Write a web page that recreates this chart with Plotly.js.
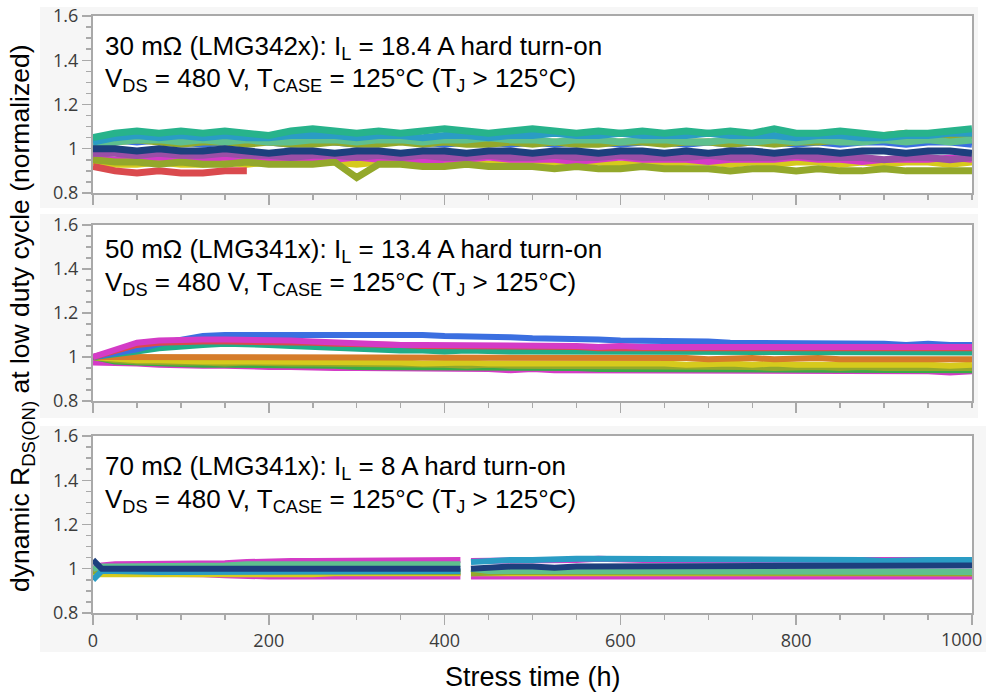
<!DOCTYPE html>
<html><head><meta charset="utf-8">
<script src="https://cdn.plot.ly/plotly-3.0.1.min.js"></script>
<style>html,body{margin:0;padding:0;background:#fff}#chart{width:987px;height:694px}</style>
</head><body><div id="chart"></div>
<script>
// ---------- DATA ----------
const stressTime = [0,25,50,75,100,125,150,175,200,225,250,275,300,325,350,375,400,425,450,475,500,525,550,575,600,625,650,675,700,725,750,775,800,825,850,875,900,925,950,975,1000];
const stressTime3 = [0,10,25,50,75,100,125,150,175,200,225,250,275,300,325,350,375,400,418,424,430,450,475,500,525,550,575,600,625,650,675,700,725,750,775,800,825,850,875,900,925,950,975,1000];

// Panel 1: 30 mOhm (LMG342x)
const p1Green = [1.05,1.07,1.08,1.07,1.08,1.07,1.08,1.07,1.06,1.08,1.09,1.08,1.07,1.08,1.07,1.08,1.09,1.08,1.07,1.08,1.09,1.08,1.07,1.08,1.07,1.08,1.07,1.08,1.07,1.08,1.07,1.09,1.07,1.07,1.08,1.07,1.06,1.07,1.07,1.08,1.09];
const p1Cyan = [1.03,1.05,1.06,1.05,1.06,1.05,1.06,1.05,1.05,1.06,1.06,1.06,1.05,1.06,1.06,1.05,1.06,1.06,1.05,1.06,1.06,1.07,1.06,1.06,1.07,1.06,1.06,1.06,1.07,1.06,1.06,1.06,1.05,1.06,1.06,1.05,1.05,1.06,1.06,1.07,1.07];
const p1LightGreen = [1.02,1.03,1.04,1.04,1.03,1.04,1.03,1.04,1.03,1.03,1.04,1.04,1.03,1.04,1.04,1.03,1.04,1.04,1.05,1.04,1.04,1.03,1.04,1.04,1.03,1.04,1.04,1.03,1.03,1.04,1.03,1.04,1.03,1.04,1.03,1.03,1.04,1.03,1.04,1.03,1.04];
const p1OliveUp = [1.02,1.03,1.04,1.03,1.02,1.03,1.03,1.02,1.03,1.02,1.02,1.03,1.02,1.02,1.03,1.02,1.03,1.02,1.02,1.03,1.02,1.03,1.02,1.02,1.03,1.03,1.02,1.03,1.03,1.02,1.03,1.02,1.03,1.03,1.04,1.06,1.06,1.07,1.06,1.06,1.06];
const p1Navy = [1.00,1.00,0.99,1.00,0.99,0.99,1.00,0.99,0.98,0.99,0.99,0.98,0.99,0.99,0.98,0.99,0.99,0.98,0.99,0.99,0.98,0.99,0.99,0.98,0.99,0.99,0.98,0.99,0.98,0.99,0.99,0.98,0.99,0.99,0.98,0.99,0.99,0.98,0.99,0.99,0.98];
const p1Purple = [0.98,0.98,0.97,0.98,0.97,0.97,0.98,0.97,0.97,0.96,0.97,0.97,0.96,0.97,0.96,0.97,0.96,0.96,0.97,0.96,0.96,0.97,0.96,0.96,0.97,0.96,0.96,0.96,0.97,0.96,0.96,0.96,0.97,0.96,0.96,0.96,0.95,0.96,0.96,0.95,0.96];
const p1Magenta = [0.96,0.95,0.95,0.96,0.95,0.95,0.96,0.95,0.95,0.94,0.95,0.95,0.96,0.95,0.95,0.94,0.95,0.95,0.96,0.95,0.95,0.95,0.94,0.95,0.96,0.95,0.95,0.95,0.94,0.95,0.95,0.95,0.96,0.95,0.95,0.94,0.95,0.95,0.95,0.96,0.95];
const p1OliveLow = [0.95,0.94,0.94,0.93,0.94,0.93,0.93,0.94,0.93,0.93,0.93,0.94,0.87,0.93,0.93,0.92,0.92,0.93,0.92,0.92,0.92,0.91,0.92,0.91,0.91,0.92,0.91,0.91,0.91,0.90,0.91,0.91,0.90,0.91,0.90,0.90,0.91,0.90,0.90,0.90,0.90];
const p1Red = [0.92,0.90,0.89,0.90,0.89,0.89,0.90,0.90,null,null,null,null,null,null,null,null,null,null,null,null,null,null,null,null,null,null,null,null,null,null,null,null,null,null,null,null,null,null,null,null,null];
const p1Yellow = [0.94,0.93,0.93,0.94,0.93,0.93,0.94,0.93,0.94,0.94,0.94,0.94,0.93,0.94,0.94,0.93,0.94,0.94,0.93,0.94,0.94,0.93,0.94,0.94,0.93,0.94,0.93,0.94,0.94,0.93,0.94,0.93,0.94,0.94,0.93,0.94,0.93,0.94,0.94,0.93,0.94];
const p1Blue = [1.04,1.04,1.03,1.04,1.03,1.02,1.03,1.04,1.03,1.02,1.03,1.03,1.02,1.03,1.04,1.03,1.02,1.03,1.03,1.02,1.03,1.02,1.03,1.03,1.02,1.03,1.03,1.02,1.03,1.02,1.03,1.03,1.02,1.03,1.02,1.03,1.03,1.02,1.03,1.03,1.02];

// Panel 2: 50 mOhm (LMG341x)
const p2Blue = [1.00,1.015,1.035,1.06,1.08,1.095,1.10,1.10,1.10,1.10,1.10,1.10,1.105,1.10,1.10,1.10,1.095,1.095,1.09,1.09,1.085,1.085,1.08,1.08,1.075,1.075,1.07,1.07,1.07,1.065,1.065,1.065,1.065,1.06,1.06,1.06,1.06,1.055,1.06,1.055,1.055];
const p2Magenta = [1.00,1.035,1.065,1.075,1.08,1.08,1.08,1.08,1.075,1.075,1.07,1.065,1.06,1.06,1.055,1.055,1.055,1.05,1.05,1.05,1.05,1.05,1.05,1.045,1.05,1.045,1.045,1.045,1.045,1.045,1.045,1.045,1.045,1.045,1.045,1.045,1.045,1.045,1.045,1.05,1.045];
const p2Red = [1.00,1.03,1.055,1.065,1.07,1.07,1.07,1.07,1.07,1.065,1.065,1.06,1.06,1.055,1.055,1.05,1.05,1.05,1.05,1.045,1.045,1.045,1.045,1.04,1.04,1.04,1.04,1.04,1.04,1.04,1.04,1.04,1.04,1.04,1.04,1.04,1.04,1.04,1.04,1.04,1.04];
const p2Teal = [1.00,1.01,1.025,1.04,1.05,1.055,1.06,1.06,1.055,1.05,1.045,1.04,1.035,1.03,1.03,1.03,1.025,1.03,1.025,1.025,1.025,1.025,1.025,1.025,1.02,1.025,1.02,1.02,1.02,1.02,1.02,1.02,1.02,1.02,1.02,1.02,1.02,1.025,1.02,1.02,1.02];
const p2Orange = [1.00,1.00,1.00,1.00,0.995,1.00,1.00,0.995,1.00,1.00,0.995,1.00,1.00,0.995,1.00,0.995,1.00,0.995,0.995,1.00,0.995,0.995,1.00,0.995,0.995,1.00,0.995,0.995,0.99,0.995,0.995,0.99,0.995,0.995,0.99,0.99,0.995,0.99,0.99,0.995,0.99];
const p2Yellow = [1.00,0.99,0.985,0.985,0.98,0.98,0.98,0.98,0.975,0.975,0.975,0.98,0.975,0.975,0.975,0.97,0.975,0.975,0.97,0.97,0.975,0.97,0.97,0.97,0.97,0.97,0.97,0.965,0.97,0.97,0.965,0.97,0.965,0.965,0.97,0.965,0.965,0.965,0.965,0.96,0.965];
const p2Olive = [1.00,0.985,0.98,0.975,0.975,0.975,0.97,0.975,0.97,0.97,0.97,0.97,0.965,0.97,0.965,0.965,0.965,0.96,0.965,0.96,0.96,0.96,0.96,0.96,0.955,0.96,0.955,0.955,0.955,0.955,0.955,0.95,0.955,0.955,0.95,0.955,0.95,0.95,0.95,0.95,0.95];
const p2Green = [1.00,0.98,0.975,0.97,0.97,0.965,0.965,0.965,0.96,0.96,0.96,0.96,0.955,0.955,0.955,0.955,0.95,0.95,0.95,0.95,0.95,0.95,0.95,0.945,0.945,0.945,0.945,0.945,0.94,0.945,0.94,0.945,0.94,0.94,0.94,0.94,0.94,0.945,0.94,0.94,0.94];
const p2MagentaLow = [0.975,0.975,0.97,0.965,0.96,0.96,0.96,0.955,0.955,0.955,0.95,0.95,0.95,0.95,0.945,0.945,0.945,0.945,0.945,0.94,0.945,0.94,0.94,0.94,0.94,0.94,0.94,0.935,0.94,0.935,0.935,0.94,0.935,0.935,0.935,0.935,0.935,0.935,0.935,0.93,0.935];

// Panel 3: 70 mOhm (LMG341x)
const p3MagentaUp = [1.00,1.015,1.02,1.02,1.02,1.02,1.025,1.025,1.03,1.035,1.035,1.035,1.035,1.04,1.04,1.04,1.04,1.04,1.04,null,1.035,1.035,1.04,1.04,1.04,1.04,1.045,1.04,1.04,1.04,1.04,1.04,1.04,1.04,1.04,1.035,1.04,1.04,1.035,1.035,1.04,1.04,1.04,1.04];
const p3Cyan = [0.95,0.99,0.99,0.985,0.985,0.985,0.985,0.985,0.99,0.99,0.99,0.99,0.99,0.99,0.99,0.99,0.99,0.99,0.99,null,1.03,1.035,1.04,1.04,1.045,1.045,1.045,1.045,1.04,1.045,1.045,1.045,1.04,1.04,1.045,1.04,1.04,1.04,1.04,1.035,1.04,1.04,1.04,1.04];
const p3LightGreen = [1.00,1.01,1.01,1.01,1.01,1.015,1.015,1.015,1.02,1.02,1.02,1.02,1.02,1.02,1.02,1.02,1.02,1.02,1.02,null,1.00,0.99,0.99,0.99,0.99,0.985,0.99,0.985,0.985,0.99,0.985,0.985,0.985,0.985,0.985,0.985,0.99,0.985,0.985,0.985,0.99,0.985,0.985,0.985];
const p3Navy = [1.04,1.00,1.00,1.00,1.00,1.00,1.00,1.00,1.00,1.00,1.00,1.00,1.005,1.00,1.00,1.005,1.00,1.005,1.00,null,1.00,1.005,1.01,1.01,1.005,1.01,1.01,1.01,1.01,1.015,1.01,1.01,1.015,1.015,1.01,1.015,1.015,1.01,1.015,1.015,1.01,1.015,1.015,1.015];
const p3Yellow = [0.975,0.975,0.975,0.97,0.97,0.97,0.97,0.975,0.975,0.975,0.975,0.975,0.98,0.98,0.98,0.98,0.98,0.98,0.98,null,0.98,0.98,0.98,0.98,0.98,0.98,0.98,0.98,0.98,0.98,0.98,0.98,0.98,0.98,0.98,0.98,0.98,0.98,0.98,0.98,0.98,0.98,0.98,0.98];
const p3Olive = [0.99,0.99,0.99,0.99,0.985,0.985,0.985,0.985,0.985,0.985,0.985,0.985,0.985,0.985,0.985,0.985,0.985,0.985,0.985,null,0.98,0.985,0.985,0.985,0.985,0.985,0.98,0.985,0.985,0.985,0.98,0.985,0.985,0.985,0.98,0.98,0.985,0.985,0.98,0.98,0.985,0.98,0.98,0.98];
const p3MagentaLow = [0.98,0.98,0.975,0.975,0.975,0.975,0.975,0.97,0.965,0.965,0.965,0.965,0.965,0.965,0.965,0.965,0.965,0.965,0.965,null,0.965,0.965,0.965,0.965,0.965,0.965,0.965,0.965,0.965,0.965,0.96,0.965,0.96,0.965,0.965,0.96,0.965,0.965,0.965,0.965,0.965,0.965,0.965,0.965];

const yTickVals = [0.8,1.0,1.2,1.4,1.6];
const yTickText = ['0.8','1','1.2','1.4','1.6'];
const xTickVals = [0,200,400,600,800,1000];
const xTickText = ['0','200','400','600','800','1000'];

// ---------- LAYOUT HELPERS ----------
const W=987, H=694, L=93, R=15, T=16, B=81;
const plotW=W-L-R, plotH=H-T-B;
const px2x = px => (px-L)/plotW;
const py2y = py => (H-B-py)/plotH;

const C = {
  green:'#27b38b', cyan:'#2a9cc4', lightGreen:'#5fc08e', olive:'#93a82b', navy:'#1d3f7d',
  purple:'#9a4fa6', magenta:'#d43bc6', red:'#da4a4e', yellow:'#d6ca1d', blue:'#3b6fe0',
  orange:'#d57c2a', teal:'#20ad88', green2:'#3aaa48'
};

function tr(x, y, color, ax, w){
  return {x:x, y:y, type:'scatter', mode:'lines', xaxis:ax[0], yaxis:ax[1],
    line:{color:color, width:w}, connectgaps:false, hoverinfo:'skip', showlegend:false};
}
const a1=['x','y'], a2=['x2','y2'], a3=['x3','y3'];
const data = [
  tr(stressTime,p1Blue,C.blue,a1,7),
  tr(stressTime,p1Yellow,C.yellow,a1,7),
  tr(stressTime,p1Red,C.red,a1,7),
  tr(stressTime,p1Magenta,C.magenta,a1,6),
  tr(stressTime,p1OliveLow,C.olive,a1,7),
  tr(stressTime,p1Purple,C.purple,a1,7),
  tr(stressTime,p1OliveUp,C.olive,a1,7),
  tr(stressTime,p1LightGreen,C.lightGreen,a1,7),
  tr(stressTime,p1Cyan,C.cyan,a1,7),
  tr(stressTime,p1Green,C.green,a1,7),
  tr(stressTime,p1Navy,C.navy,a1,7),

  tr(stressTime,p2MagentaLow,C.magenta,a2,6),
  tr(stressTime,p2Green,C.green2,a2,6),
  tr(stressTime,p2Olive,C.olive,a2,6),
  tr(stressTime,p2Yellow,C.yellow,a2,6),
  tr(stressTime,p2Orange,C.orange,a2,6),
  tr(stressTime,p2Teal,C.teal,a2,6),
  tr(stressTime,p2Blue,C.blue,a2,6),
  tr(stressTime,p2Red,C.red,a2,6),
  tr(stressTime,p2Magenta,C.magenta,a2,6),

  tr(stressTime3,p3MagentaLow,C.magenta,a3,6),
  tr(stressTime3,p3Yellow,C.yellow,a3,6),
  tr(stressTime3,p3Olive,C.olive,a3,6),
  tr(stressTime3,p3MagentaUp,C.magenta,a3,6),
  tr(stressTime3,p3LightGreen,C.lightGreen,a3,6),
  tr(stressTime3,p3Cyan,C.cyan,a3,6),
  tr(stressTime3,p3Navy,C.navy,a3,6)
];

const axCol = '#a9a9a9';
const tickFont = {family:'Open Sans, Noto Sans, sans-serif', size:18, color:'#3c3c3c'};
const lastX = xTickVals.length - 1;
// the last label is drawn right-aligned (as in the reference) via an annotation below
const xTickTextAxis = xTickText.map((t,i) => i === lastX ? '' : t);
function xAx(anchor, labels){
  return {domain:[0,1], anchor:anchor, range:[-0.01,1000.01], tickmode:'array', tickvals:xTickVals, ticktext:xTickTextAxis,
    ticks:'outside', ticklen:10, tickwidth:1.5, tickcolor:axCol, showline:true, linecolor:axCol, linewidth:2, mirror:true,
    showgrid:false, zeroline:false, showticklabels:labels, tickfont:tickFont, ticklabeloverflow:'allow',
    minor:{dtick:50, tick0:0, ticklen:5, tickwidth:1.5, tickcolor:axCol, ticks:'outside', showgrid:false}, fixedrange:true};
}
function yAx(anchor, dom){
  return {domain:dom, anchor:anchor, range:[0.7999,1.6001], tickmode:'array', tickvals:yTickVals, ticktext:yTickText,
    ticks:'outside', ticklen:9, tickwidth:1.5, tickcolor:axCol, showline:true, linecolor:axCol, linewidth:2, mirror:true,
    showgrid:false, zeroline:false, tickfont:tickFont, ticklabeloverflow:'allow',
    minor:{dtick:0.05, tick0:0.8, ticklen:5, tickwidth:1.5, tickcolor:axCol, ticks:'outside', showgrid:false}, fixedrange:true};
}

const noteFont = {family:'Liberation Sans, Arial, sans-serif', size:26, color:'#000'};
const yTitleFont = {family:'Liberation Sans, Arial, sans-serif', size:26.5, color:'#000'};
const xTitleFont = {family:'Liberation Sans, Arial, sans-serif', size:27, color:'#000'};
function note(text, py){
  return {text:text, xref:'paper', yref:'paper', x:px2x(103), y:py2y(py), xanchor:'left', yanchor:'middle',
    showarrow:false, font:noteFont, align:'left'};
}
const line2 = 'V<sub>DS</sub> = 480 V, T<sub>CASE</sub> = 125°C (T<sub>J</sub> > 125°C)';
const annotations = [
  note('30 mΩ (LMG342x): I<sub>L</sub> = 18.4 A hard turn-on', 48),
  note(line2, 80),
  note('50 mΩ (LMG341x): I<sub>L</sub> = 13.4 A hard turn-on', 251),
  note(line2, 283),
  note('70 mΩ (LMG341x): I<sub>L</sub> = 8 A hard turn-on', 467),
  note(line2, 500),
  {text:'dynamic R<sub>DS(ON)</sub> at low duty cycle (normalized)', xref:'paper', yref:'paper',
    x:px2x(22), y:py2y(319), xanchor:'center', yanchor:'middle', textangle:-90, showarrow:false, font:yTitleFont},
  {text:'Stress time (h)', xref:'paper', yref:'paper', x:px2x(533), y:py2y(677),
    xanchor:'center', yanchor:'middle', showarrow:false, font:xTitleFont},
  {text:xTickText[lastX], xref:'x3', yref:'paper', x:xTickVals[lastX], y:py2y(639), xanchor:'right', yanchor:'middle',
    xshift:12, showarrow:false, font:tickFont}
];

function rectPx(x0,y0,x1,y1,fill){
  return {type:'rect', xref:'paper', yref:'paper', x0:px2x(x0), x1:px2x(x1), y0:py2y(y1), y1:py2y(y0),
    fillcolor:fill, line:{width:0}, layer:'below'};
}
const shapes = [
  rectPx(40,7,978,208,'#f6f6f6'), rectPx(40,214,978,418,'#f6f6f6'), rectPx(40,426,986,652,'#f6f6f6'),
  rectPx(93,16,972,193,'#ffffff'), rectPx(93,225,972,401,'#ffffff'), rectPx(93,436,972,613,'#ffffff')
];

const layout = {
  width:W, height:H, margin:{l:L, r:R, t:T, b:B, pad:0},
  paper_bgcolor:'#ffffff', plot_bgcolor:'#ffffff', showlegend:false,
  xaxis:xAx('y', false), yaxis:yAx('x', [py2y(193), py2y(16)]),
  xaxis2:xAx('y2', false), yaxis2:yAx('x2', [py2y(401), py2y(225)]),
  xaxis3:xAx('y3', true), yaxis3:yAx('x3', [py2y(613), py2y(436)]),
  annotations:annotations, shapes:shapes
};
Plotly.newPlot('chart', data, layout, {displayModeBar:false, staticPlot:true});
</script></body></html>
